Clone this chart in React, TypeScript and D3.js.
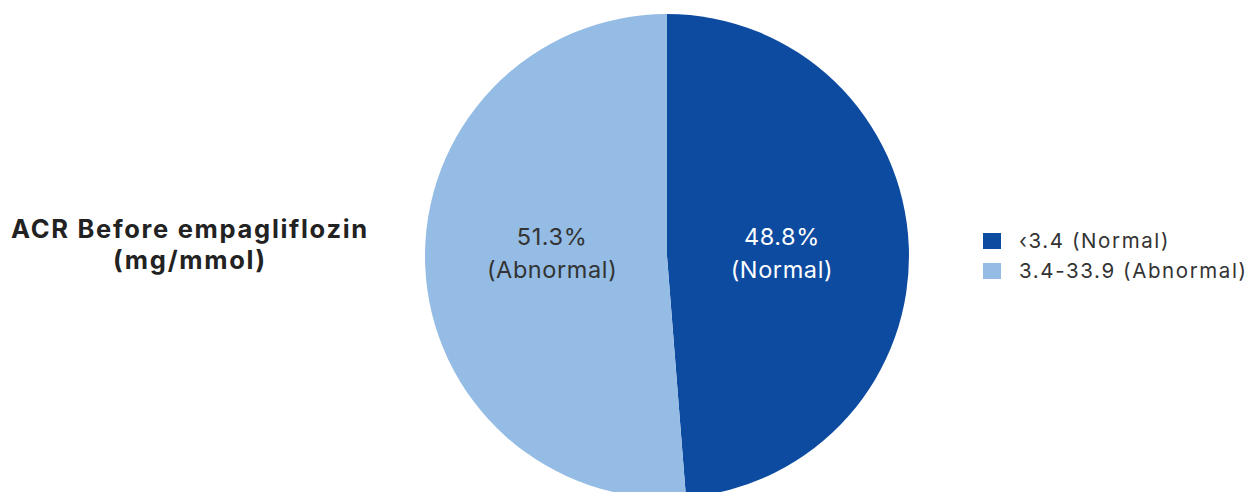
import React from "react";
import * as d3 from "d3";

const categories = ["‹3.4 (Normal)", "3.4-33.9 (Abnormal)"];
const sliceLabels = ["(Normal)", "(Abnormal)"];
const values = [48.8, 51.3];
const colors = ["#0D4BA0", "#94BCE4"];
const labelColors = ["#FFFFFF", "#333333"];
const titleLines = ["ACR Before empagliflozin", "(mg/mmol)"];

const W = 1254;
const H = 492;

export default function App() {
  const cx = 667;
  const cy = 256;
  const r = 242;
  const pie = d3.pie<number>().sort(null).value((d) => d);
  const arcs = pie(values);
  const arc = d3.arc<d3.PieArcDatum<number>>().innerRadius(0).outerRadius(r);
  const labelArc = d3.arc<d3.PieArcDatum<number>>().innerRadius(115).outerRadius(115);
  const font = "Inter, 'Open Sans', sans-serif";
  return (
    <svg width={W} height={H} style={{ position: "absolute", left: 0, top: 0 }}>
      <g transform={`translate(${cx},${cy})`}>
        {arcs.map((a, i) => (
          <path key={i} d={arc(a) || ""} fill={colors[i]} />
        ))}
        {arcs.map((a, i) => {
          const [x] = labelArc.centroid(a);
          return (
            <text key={i} x={x} y={-11} textAnchor="middle" fill={labelColors[i]} fontFamily={font} fontSize={23.5} letterSpacing={0.6}>
              <tspan x={x} dy={0}>{values[i].toFixed(1)}%</tspan>
              <tspan x={x} dy={33}>{sliceLabels[i]}</tspan>
            </text>
          );
        })}
      </g>
      <text x={190} y={238} textAnchor="middle" fontFamily={font} fontWeight={700} fontSize={25.5} letterSpacing={1.7} fill="#222">
        {titleLines.map((t, i) => (
          <tspan key={i} x={190} dy={i === 0 ? 0 : 31}>{t}</tspan>
        ))}
      </text>
      {categories.map((c, i) => (
        <g key={i} transform={`translate(983,${233 + i * 30})`}>
          <rect width={18} height={16} fill={colors[i]} />
          <text x={36} y={15} fontFamily={font} fontSize={20.5} letterSpacing={1.6} fill="#333">{c}</text>
        </g>
      ))}
    </svg>
  );
}
